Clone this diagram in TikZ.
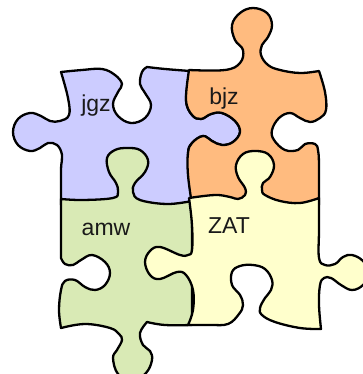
\documentclass[tikz,border=0pt]{standalone}
\usepackage{fontspec}
\setmainfont{Liberation Sans}
\definecolor{pblue}{HTML}{CCCCFF}
\definecolor{porange}{HTML}{FFBB7F}
\definecolor{pgreen}{HTML}{D9EAB5}
\definecolor{pyellow}{HTML}{FFFFCC}
\tikzset{
  piece/.style={draw=black,line width=2.3pt,line join=round},
  curve/.style={smooth,tension=0.65},
  lbl/.style={font=\fontsize{23}{23}\selectfont,anchor=base,inner sep=0pt,text=black!90}
}
\begin{document}
\begin{tikzpicture}[x=1pt,y=-1pt]
\clip (0,0) rectangle (363,374);
% blue
\path[piece,fill=pblue] plot[curve] coordinates {(61,72)(82,70)(102,69)(115,75)(122,84)(118,92)(113,104)(118,116)(131,123)(145,118)(151,105)(145,93)(140,84)(142,72)(147,67)}
 -- plot[curve] coordinates {(147,67)(165,69)(190,71)}
 -- plot[curve] coordinates {(190,71)(186,100)(192,115)(201,119)(211,114)(222,113)(235,121)(240,132)(233,142)(222,145)(212,141)(203,136)(192,143)(188,153)(190,175)(192,205)}
 -- (61,205) -- plot[curve] coordinates {(61,205)(61,170)(62,155)(57,145)(48,143)(40,148)(30,151)(18,145)(13,132)(18,119)(30,113)(41,116)(50,121)(60,121)(69,115)(68,98)(61,72)} -- cycle;
% orange
\path[piece,fill=porange] plot[curve] coordinates {(189,70)(225,70)(240,63)(243,50)(235,40)(232,25)(240,13)(253,8)(267,13)(272,25)(268,37)(262,45)(261,55)(268,65)(280,70)(300,73)(319,71)}
 -- plot[curve] coordinates {(319,71)(325,92)(326,110)(320,118)(310,122)(300,118)(290,113)(279,118)(272,130)(274,140)(285,150)(298,150)(305,144)(315,144)(318,150)(319,165)(319,205)}
 -- (192,205) -- plot[curve] coordinates {(192,205)(188,175)(188,153)(192,143)(203,136)(212,141)(222,145)(233,142)(240,132)(235,121)(222,113)(211,114)(201,119)(192,115)(186,100)(189,70)} -- cycle;
% green
\path[piece,fill=pgreen] plot[curve] coordinates {(61,199)(83,200)(113,198)(118,192)(116,183)(109,172)(107,158)(115,150)(127,148)(140,150)(148,160)(145,172)(135,183)(133,192)(140,200)(167,204)(192,201)}
 -- (192,325) -- plot[curve] coordinates {(192,325)(165,325)(147,322)}
 -- plot[curve] coordinates {(147,322)(140,333)(143,345)(150,351)(152,360)(146,373)(132,381)(118,374)(113,358)(117,350)(122,340)(119,334)(110,328)(85,324)(61,328)}
 -- plot[curve] coordinates {(61,328)(59,310)(61,290)(65,281)(75,280)(85,287)(95,290)(105,285)(110,273)(105,262)(92,255)(81,260)(73,265)(65,264)(61,258)}
 -- (61,199) -- cycle;
% yellow
\path[piece,fill=pyellow] plot[curve] coordinates {(189,198)(215,195)(230,197)(238,199)(245,195)(245,188)(238,177)(236,165)(243,154)(255,151)(268,154)(274,165)(270,177)(263,183)(262,190)(265,195)(280,201)(300,203)(319,198)}
 -- plot[curve] coordinates {(319,198)(319,230)(319,258)(325,265)(335,264)(343,257)(352,255)(363,261)(369,273)(363,285)(352,290)(341,285)(331,278)(324,278)(320,285)(319,305)(321,329)}
 -- plot[curve] coordinates {(321,329)(300,328)(275,322)(262,315)(260,308)(265,298)(271,290)(272,280)(265,269)(253,265)(240,266)(232,272)(232,285)(240,295)(243,305)(239,314)(228,324)(210,325)(188,325)}
 -- plot[curve] coordinates {(188,325)(193,310)(193,290)(186,275)(177,272)(160,279)(150,275)(145,262)(150,251)(160,247)(180,255)(188,255)(192,250)(192,225)(189,198)} -- cycle;
\node[lbl] (jgz) at (96,112) {jgz};
\node[lbl] (bjz) at (224,105) {bjz};
\node[lbl] (amw) at (106,235) {amw};
\node[lbl] (zat) at (229,233) {ZAT};
\end{tikzpicture}
\end{document}
